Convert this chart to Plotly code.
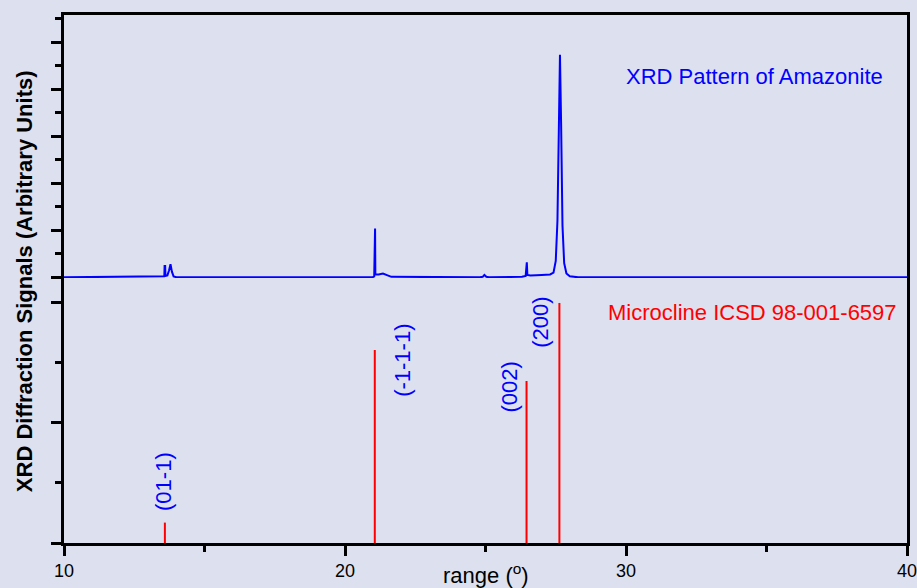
import plotly.graph_objects as go

# ---------------- data ----------------
# Measured XRD pattern of amazonite (2theta in degrees, arbitrary intensity)
xrd_two_theta = [10.0, 13.40, 13.57, 13.58, 13.60, 13.61, 13.68, 13.74, 13.79, 13.84, 13.90, 14.00,
                 20.98, 21.04, 21.05, 21.07, 21.08, 21.20, 21.35, 21.50, 21.65,
                 24.80, 24.90, 24.96, 25.03, 25.12,
                 26.30, 26.43, 26.45, 26.47, 26.49, 26.60, 27.00, 27.30,
                 27.42, 27.50, 27.56, 27.61, 27.65, 27.69, 27.74, 27.80, 27.88, 28.00, 28.30, 40.0]
xrd_intensity = [0.0, 0.01, 0.02, 0.24, 0.24, 0.03, 0.04, 0.15, 0.28, 0.12, 0.02, 0.0,
                 0.0, 0.02, 1.04, 1.04, 0.06, 0.06, 0.08, 0.05, 0.01,
                 0.0, 0.01, 0.05, 0.01, 0.0,
                 0.01, 0.03, 0.32, 0.32, 0.05, 0.04, 0.05, 0.06,
                 0.10, 0.35, 1.20, 3.30, 4.74, 3.30, 1.10, 0.30, 0.08, 0.02, 0.0, 0.0]

# Reference sticks: Microcline ICSD 98-001-6597
ref_two_theta = [13.59, 21.06, 26.46, 27.63]
ref_intensity = [8.5, 80.4, 67.5, 100.0]
ref_labels = ["(01-1)", "(-1-1-1)", "(002)", "(200)"]
label_x = [13.52, 22.02, 25.84, 26.97]
label_y = [25.8, 76.2, 64.8, 92.1]

x_ticks = [10, 20, 30, 40]

# ---------------- figure ----------------
BG = "#dde0ee"
FONT = "Liberation Sans, Arial, sans-serif"
LW = 2.5

fig = go.Figure()

fig.add_trace(go.Scatter(
    x=xrd_two_theta, y=xrd_intensity, mode="lines",
    line=dict(color="#0000ff", width=2), xaxis="x2", yaxis="y",
    showlegend=False, hoverinfo="skip"))

stick_x, stick_y = [], []
for tt, h in zip(ref_two_theta, ref_intensity):
    stick_x += [tt, tt, None]
    stick_y += [0, h, None]
fig.add_trace(go.Scatter(
    x=stick_x, y=stick_y, mode="lines",
    line=dict(color="#ff0000", width=2), xaxis="x", yaxis="y2",
    showlegend=False, hoverinfo="skip"))

annotations = []
for lx, ly, lab in zip(label_x, label_y, ref_labels):
    annotations.append(dict(x=lx, y=ly, xref="x", yref="y2", text=lab, showarrow=False,
                            textangle=-90, font=dict(family=FONT, size=22, color="#0000ff"),
                            xanchor="center", yanchor="middle"))

annotations += [
    dict(x=0.974, y=0.884, xref="paper", yref="paper", text="XRD Pattern of Amazonite",
         showarrow=False, xanchor="right", yanchor="middle",
         font=dict(family=FONT, size=22, color="#0000ff")),
    dict(x=0.9905, y=0.4375, xref="paper", yref="paper", text="Microcline ICSD 98-001-6597",
         showarrow=False, xanchor="right", yanchor="middle",
         font=dict(family=FONT, size=22, color="#ff0000")),
    dict(x=0.5, y=-0.058, xref="paper", yref="paper", text="range (<sup>o</sup>)",
         showarrow=False, xanchor="center", yanchor="middle",
         font=dict(family=FONT, size=22, color="#000000")),
    dict(x=-0.0474, y=0.496, xref="paper", yref="paper",
         text="<b>XRD Diffraction Signals (Arbitrary Units)</b>",
         showarrow=False, xanchor="center", yanchor="middle", textangle=-90,
         font=dict(family=FONT, size=22, color="#000000")),
]

split = 265 / 528

fig.update_layout(
    width=917, height=588,
    margin=dict(l=64, r=10, t=15, b=45, autoexpand=False),
    paper_bgcolor=BG, plot_bgcolor=BG,
    font=dict(family=FONT, color="#000000"),
    showlegend=False,
    annotations=annotations,
    xaxis=dict(domain=[0, 1], anchor="y2", range=[10, 40], automargin=False,
               tickmode="array", tickvals=x_ticks, ticktext=[str(t) for t in x_ticks],
               ticklabeloverflow="allow",
               ticks="outside", ticklen=10, tickwidth=LW, tickcolor="#000000",
               minor=dict(dtick=5, tick0=10, ticks="outside", ticklen=6, tickwidth=LW, tickcolor="#000000"),
               showline=True, linewidth=LW, linecolor="#000000", mirror=False,
               showgrid=False, zeroline=False, tickfont=dict(size=18, family=FONT)),
    yaxis2=dict(domain=[0, split], anchor="x", range=[0, 110.4], automargin=False,
                tickmode="linear", tick0=0, dtick=50,
                ticks="outside", ticklen=10, tickwidth=LW, tickcolor="#000000",
                minor=dict(dtick=25, tick0=0, ticks="outside", ticklen=6, tickwidth=LW, tickcolor="#000000"),
                showticklabels=False, showline=True, linewidth=LW, linecolor="#000000",
                mirror=True, showgrid=False, zeroline=False),
    xaxis2=dict(domain=[0, 1], anchor="y", side="top", range=[10, 40], matches="x",
                automargin=False,
                ticks="", showticklabels=False, showline=True, linewidth=LW,
                linecolor="#000000", mirror=False, showgrid=False, zeroline=False),
    yaxis=dict(domain=[split, 1], anchor="x2", range=[-0.015, 5.585], automargin=False,
               tickmode="linear", tick0=0, dtick=1,
               ticks="outside", ticklen=10, tickwidth=LW, tickcolor="#000000",
               minor=dict(dtick=0.5, tick0=0, ticks="outside", ticklen=6, tickwidth=LW, tickcolor="#000000"),
               showticklabels=False, showline=True, linewidth=LW, linecolor="#000000",
               mirror=True, showgrid=False, zeroline=False),
)

fig.write_html(
    "out.html",
    config={"displayModeBar": False},
    post_script="document.body.style.margin='0';document.body.style.padding='0';"
                "document.body.style.background='" + BG + "';"
                "document.documentElement.style.overflow='hidden';",
)
